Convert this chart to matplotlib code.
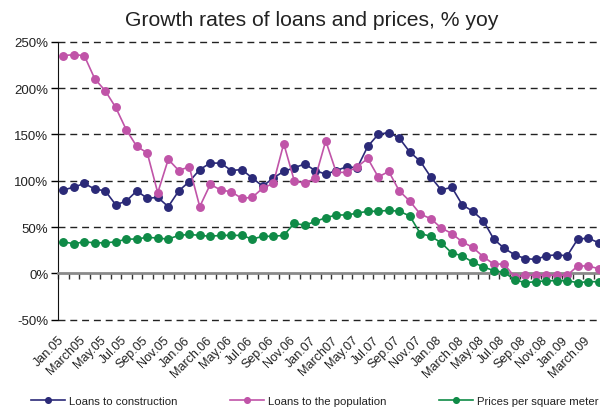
import numpy as np
import matplotlib
matplotlib.use("Agg")
import matplotlib.pyplot as plt
import matplotlib.transforms as mtransforms

plt.rcParams['font.family'] = ['Liberation Sans', 'DejaVu Sans']
plt.rcParams['text.color'] = '#222222'

# monthly, Jan.05 .. Apr.09
months = ["Jan.05", "March05", "May.05", "Jul.05", "Sep.05", "Nov.05",
          "Jan.06", "March.06", "May.06", "Jul.06", "Sep.06", "Nov.06",
          "Jan.07", "March07", "May.07", "Jul.07", "Sep.07", "Nov.07",
          "Jan.08", "March.08", "May.08", "Jul.08", "Sep.08", "Nov.08",
          "Jan.09", "March.09"]

construction = [90, 93, 97, 91, 89, 74, 78, 89, 81, 82, 72, 89,
                99, 112, 119, 119, 111, 112, 103, 94, 103, 110, 114, 118,
                111, 107, 111, 115, 114, 137, 150, 152, 146, 131, 121, 104,
                90, 93, 74, 67, 57, 37, 27, 20, 16, 15, 19, 20,
                19, 37, 38, 33]

population = [235, 236, 235, 210, 197, 179, 155, 137, 130, 87, 123, 111,
              115, 72, 96, 90, 88, 81, 82, 92, 97, 140, 100, 97,
              103, 143, 109, 109, 115, 124, 104, 110, 89, 78, 64, 59,
              49, 43, 34, 28, 18, 10, 10, -4, -2, -2, -2, -2,
              -2, 8, 8, 5]

prices = [34, 32, 34, 33, 33, 34, 37, 37, 39, 38, 37, 41,
          42, 41, 40, 41, 41, 41, 37, 40, 40, 41, 54, 52,
          56, 60, 63, 63, 65, 67, 67, 68, 67, 62, 43, 40,
          33, 22, 19, 12, 7, 3, 1, -7, -10, -9, -8, -8,
          -8, -10, -9, -9]

navy = "#2b2a78"
pink = "#c054a8"
green = "#0f8b47"

fig = plt.figure(figsize=(6, 4.1), dpi=100)
ax = fig.add_axes([58 / 600, 89.3 / 410, 546 / 600, 278 / 410])

x = np.arange(len(construction))
ax.plot(x, construction, color=navy, lw=1.2, marker="o", ms=5.4, label="Loans to construction", zorder=3)
ax.plot(x, population, color=pink, lw=1.2, marker="o", ms=5.4, label="Loans to the population", zorder=3)
ax.plot(x, prices, color=green, lw=1.2, marker="o", ms=5.4, label="Prices per square meter", zorder=3)

ax.set_xlim(-0.5, len(x) - 0.5)
ax.set_ylim(-50, 250)
ax.set_yticks(np.arange(-50, 251, 50))
ax.yaxis.set_major_formatter(matplotlib.ticker.FuncFormatter(lambda v, p: f"{v:.0f}%"))
ax.tick_params(axis="y", labelsize=9.5, length=5, width=1, pad=2, labelcolor="#222222")
for v in [-50, 50, 100, 150, 200, 250]:
    ax.axhline(v, color="#222222", lw=1, ls=(0, (5, 3.5)), zorder=1, clip_on=False)

for s in ["top", "right"]:
    ax.spines[s].set_visible(False)
ax.spines["left"].set_color("#111111")
ax.spines["bottom"].set_position(("data", 0))
ax.spines["bottom"].set_color("#8a8a8a")
ax.spines["bottom"].set_linewidth(2)
ax.set_xticks([])
ax.set_xticks(np.arange(-0.5, len(x), 1), minor=True)
ax.tick_params(axis="x", which="minor", length=4, width=1, color="#333333", direction="out")

sec = ax.secondary_xaxis("bottom")
sec.set_xticks(np.arange(0, len(x), 2), months)
sec.tick_params(length=0, labelsize=9, pad=10, labelcolor="#222222")
shift = mtransforms.ScaledTranslation(-5 / 100, 0, fig.dpi_scale_trans)
for lab in sec.get_xticklabels():
    lab.set_rotation(45)
    lab.set_ha("right")
    lab.set_rotation_mode("anchor")
    lab.set_transform(lab.get_transform() + shift)
sec.spines["bottom"].set_visible(False)

fig.text(0.519, 0.951, "Growth rates of loans and prices, % yoy", ha="center", va="center", fontsize=15.2)

fig.legend(loc="center left", bbox_to_anchor=(31 / 600, 8 / 410), ncol=3, frameon=False,
           fontsize=8.2, handlelength=3.0, columnspacing=4.6, handletextpad=0.35,
           borderpad=0, borderaxespad=0, markerscale=0.75)

fig.savefig("out.png", dpi=100)
